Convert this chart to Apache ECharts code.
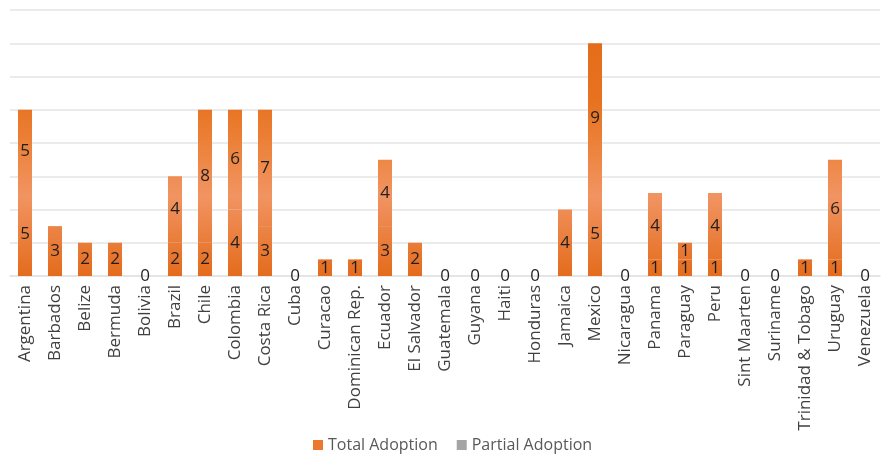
<!DOCTYPE html>
<html>
<head>
<meta charset="utf-8">
<script src="https://cdn.jsdelivr.net/npm/echarts@6/dist/echarts.min.js"></script>
<style>
  html, body { margin: 0; padding: 0; background: #ffffff; }
  #chart { width: 889px; height: 456px; }
</style>
</head>
<body>
<div id="chart"></div>
<script>
// Countries along the category axis
const categories = [
  'Argentina', 'Barbados', 'Belize', 'Bermuda', 'Bolivia', 'Brazil', 'Chile',
  'Colombia', 'Costa Rica', 'Cuba', 'Curacao', 'Dominican Rep.', 'Ecuador',
  'El Salvador', 'Guatemala', 'Guyana', 'Haiti', 'Honduras', 'Jamaica',
  'Mexico', 'Nicaragua', 'Panama', 'Paraguay', 'Peru', 'Sint Maarten',
  'Suriname', 'Trinidad & Tobago', 'Uruguay', 'Venezuela'
];

// Number of instruments per country
const totalAdoption = [5, 3, 2, 2, 0, 2, 2, 4, 3, 0, 1, 1, 3, 2, 0, 0, 0, 0, 4, 5, 0, 1, 1, 1, 0, 0, 1, 1, 0];
const partialAdoption = [5, 0, 0, 0, 0, 4, 8, 6, 7, 0, 0, 0, 4, 0, 0, 0, 0, 0, 0, 9, 0, 4, 1, 4, 0, 0, 0, 6, 0];

// Value axis range (labels hidden, gridlines only)
const valueMin = 0;
const valueMax = 16;
const valueStep = 2;

const FONT = "'Open Sans', 'Noto Sans', sans-serif";

const chart = echarts.init(document.getElementById('chart'), null, { renderer: 'canvas' });

// One shared vertical gradient in canvas pixels, so every bar shades by height
const barFill = new echarts.graphic.LinearGradient(0, 276, 0, 10, [
  { offset: 0.00, color: '#E46C1C' },
  { offset: 0.30, color: '#F19462' },
  { offset: 0.50, color: '#EC8139' },
  { offset: 0.66, color: '#E7721F' },
  { offset: 1.00, color: '#E36A17' }
], true);

const labelBase = {
  show: true,
  position: 'inside',
  fontFamily: FONT,
  fontSize: 17,
  color: '#1F1F1F'
};

chart.setOption({
  animation: false,
  backgroundColor: '#ffffff',
  grid: { left: 10, right: 9, top: 10, bottom: 180, containLabel: false },
  legend: {
    top: 432,
    left: 308,
    itemWidth: 10,
    itemHeight: 10,
    itemGap: 19,
    icon: 'rect',
    textStyle: { fontFamily: FONT, fontSize: 16, color: '#595959' },
    data: [
      { name: 'Total Adoption', itemStyle: { color: '#EB782C' } },
      { name: 'Partial Adoption', itemStyle: { color: '#A5A5A5' } }
    ]
  },
  xAxis: {
    type: 'category',
    data: categories,
    axisLine: { show: true, lineStyle: { color: '#E4E4E4', width: 1.5 } },
    axisTick: { show: false },
    axisLabel: {
      rotate: 90,
      interval: 0,
      margin: 9,
      fontFamily: FONT,
      fontSize: 17,
      color: '#404040'
    }
  },
  yAxis: {
    type: 'value',
    min: valueMin,
    max: valueMax,
    interval: valueStep,
    axisLine: { show: false },
    axisTick: { show: false },
    axisLabel: { show: false },
    splitLine: { show: true, lineStyle: { color: '#E4E4E4', width: 1.5 } }
  },
  series: [
    {
      name: 'Total Adoption',
      type: 'bar',
      stack: 'adoption',
      barWidth: 14,
      data: totalAdoption,
      itemStyle: { color: barFill },
      label: labelBase
    },
    {
      name: 'Partial Adoption',
      type: 'bar',
      stack: 'adoption',
      barWidth: 14,
      data: partialAdoption,
      itemStyle: { color: barFill },
      label: Object.assign({}, labelBase, {
        formatter: p => (p.value > 0 ? String(p.value) : '')
      })
    }
  ]
});
</script>
</body>
</html>
